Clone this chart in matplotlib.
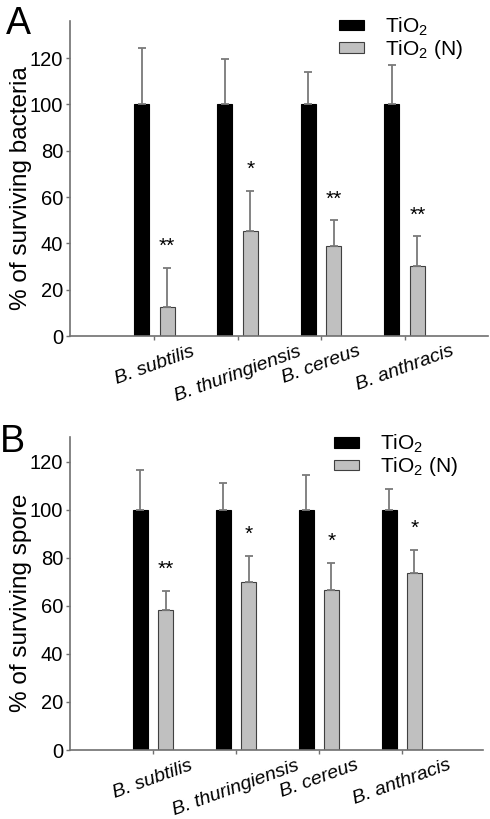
import matplotlib
matplotlib.use("Agg")
import matplotlib.pyplot as plt
import numpy as np

plt.rcParams['font.family'] = ['Liberation Sans', 'DejaVu Sans']
plt.rcParams['mathtext.fontset'] = 'custom'
plt.rcParams['mathtext.rm'] = 'Liberation Sans'
plt.rcParams['mathtext.it'] = 'Liberation Sans:italic'
NARROW = ['Liberation Sans Narrow', 'Liberation Sans', 'DejaVu Sans']

categories = ["B. subtilis", "B. thuringiensis", "B. cereus", "B. anthracis"]
series_names = ["TiO$_2$", "TiO$_2$ (N)"]

bact_tio2 = [100, 100, 100, 100]
bact_tio2_err = [24.5, 19.4, 13.9, 17.2]
bact_tio2n = [12.7, 45.2, 38.9, 30.1]
bact_tio2n_err = [16.8, 17.6, 11.1, 13.0]
bact_stars = ["**", "*", "**", "**"]

spore_tio2 = [100, 100, 100, 100]
spore_tio2_err = [16.5, 11.1, 14.7, 8.9]
spore_tio2n = [58.2, 70.1, 66.5, 73.6]
spore_tio2n_err = [7.9, 10.6, 11.3, 9.7]
spore_stars = ["**", "*", "*", "*"]

fig = plt.figure(figsize=(4.9, 8.19), dpi=100)

def panel(rect, ylim, xlim, black, berr, gray, gerr, stars, ylabel, star_off, leg_y, lab_xy):
    ax = fig.add_axes(rect)
    x = np.arange(len(categories))
    w = 0.18
    off = 0.153
    ekw = dict(ecolor='#7a7a7a', elinewidth=1.3, capsize=3.2, capthick=1.3)
    ax.bar(x - off, black, w, color='black', edgecolor='black', linewidth=0.8,
           yerr=[np.zeros(4), berr], error_kw=ekw, label=series_names[0], zorder=2)
    ax.bar(x + off, gray, w, color='#c0c0c0', edgecolor='#404040', linewidth=0.8,
           yerr=[np.zeros(4), gerr], error_kw=ekw, label=series_names[1], zorder=2)
    for xi, g, e, s in zip(x, gray, gerr, stars):
        ax.text(xi + off, g + e + star_off, s, ha='center', va='center', fontsize=15)
    ax.set_xlim(*xlim)
    ax.set_ylim(*ylim)
    ax.set_yticks([0, 20, 40, 60, 80, 100, 120])
    ax.set_yticklabels([str(v) for v in [0, 20, 40, 60, 80, 100, 120]], family=NARROW, fontsize=14.5)
    ax.set_xticks(x)
    ax.set_xticklabels(categories, rotation=20, ha='center', fontstyle='italic', fontsize=14, family=NARROW)
    ax.tick_params(axis='y', length=3, width=1, color='#707070', pad=2)
    ax.tick_params(axis='x', length=3, width=1, color='#707070', pad=2)
    for s in ['top', 'right']:
        ax.spines[s].set_visible(False)
    for s in ['left', 'bottom']:
        ax.spines[s].set_color('#707070')
        ax.spines[s].set_linewidth(1.2)
    ax.set_ylabel(ylabel, fontsize=17.5)
    ax.yaxis.set_label_coords(*lab_xy)
    ax.legend(loc='upper right', bbox_to_anchor=(0.965, leg_y), frameon=False, fontsize=15,
              handlelength=1.2, handleheight=0.4, handletextpad=1.0, labelspacing=0.0, borderpad=0)
    return ax

axA = panel([70/490, 1-336/819, 418/490, 315/819], (0, 136), (-1.01, 4.0),
            bact_tio2, bact_tio2_err, bact_tio2n, bact_tio2n_err, bact_stars,
            "% of surviving bacteria", 9, 1.05, (-0.092, 0.47))
axB = panel([70/490, 1-750/819, 413/490, 313.3/819], (0, 130.5), (-1.0, 3.98),
            spore_tio2, spore_tio2_err, spore_tio2n, spore_tio2n_err, spore_stars,
            "% of surviving spore", 9, 1.045, (-0.093, 0.469))

fig.text(6/490, 1-6/819, "A", fontsize=27, va='top', ha='left')
fig.text(0/490, 1-424/819, "B", fontsize=27, va='top', ha='left')

fig.savefig("out.png", dpi=100)
